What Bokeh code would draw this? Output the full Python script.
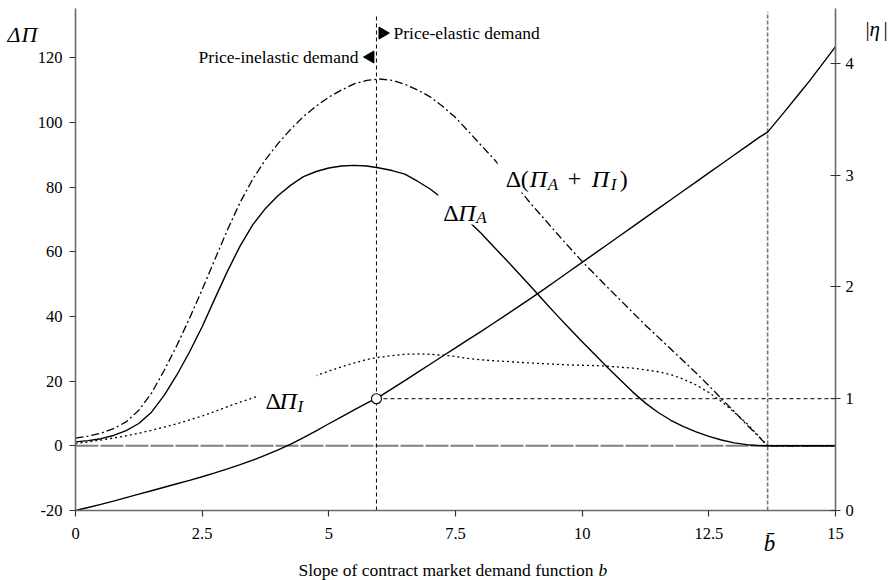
import math

from bokeh.embed import file_html
from bokeh.models import (BoxAnnotation, FixedTicker, Label, LinearAxis,
                          NumeralTickFormatter, Range1d)
from bokeh.plotting import figure
from bokeh.resources import INLINE

# Slope of the contract market demand function
b = [0, 0.25, 0.5, 0.75, 1, 1.25, 1.5, 1.75, 2, 2.25, 2.5, 2.75,
     3, 3.25, 3.5, 3.75, 4, 4.25, 4.5, 4.75, 5, 5.25, 5.5, 5.75,
     6, 6.25, 6.5, 6.75, 7, 7.25, 7.5, 7.75, 8, 8.25, 8.5, 8.75,
     9, 9.25, 9.5, 9.75, 10, 10.25, 10.5, 10.75, 11, 11.25, 11.5, 11.75,
     12, 12.25, 12.5, 12.75, 13, 13.25, 13.5,
     13.66, 14, 14.25, 14.5, 14.75, 15]

# Change in profit of A
d_pi_a = [1.2, 1.6, 2.2, 3.2, 4.7, 6.9, 10.4, 15.6, 21.9, 29.0, 36.8, 45.5,
          54.0, 61.8, 68.4, 73.4, 77.4, 80.6, 83.2, 84.8, 85.9, 86.5, 86.7, 86.5,
          85.9, 85.1, 84.0, 81.8, 79.4, 76.4, 73.0, 69.6, 65.8, 61.6, 57.5, 53.3,
          49.0, 44.7, 40.4, 36.3, 32.2, 28.2, 24.2, 20.4, 16.6, 13.2, 10.3, 7.9,
          5.9, 4.3, 2.9, 1.8, 0.9, 0.35, 0.05,
          0, 0, 0, 0, 0, 0]

# Change in profit of I
d_pi_i = [0.7, 1.2, 1.8, 2.4, 3.1, 3.9, 4.8, 5.8, 6.8, 8.0, 9.2, 10.6,
          12.1, 13.5, 14.8, 16.2, 17.5, 18.9, 20.3, 21.7, 23.1, 24.4, 25.6, 26.7,
          27.4, 27.9, 28.3, 28.4, 28.3, 28.0, 27.6, 27.0, 26.6, 26.3, 26.1, 25.8,
          25.6, 25.4, 25.2, 25.0, 24.9, 24.8, 24.6, 24.3, 24.0, 23.5, 22.9, 22.0,
          20.6, 18.8, 16.5, 13.7, 10.4, 6.9, 2.7,
          0, 0, 0, 0, 0, 0]

# Change in joint profit of A and I
d_pi_sum = [2.4, 3.0, 3.9, 5.3, 7.4, 11.0, 16.3, 23.3, 31.0, 39.4, 48.3, 57.6,
            66.8, 75.3, 82.5, 88.5, 93.5, 97.9, 101.8, 105.0, 107.8, 110.0, 111.9, 113.0,
            113.4, 113.0, 111.8, 110.0, 107.9, 104.9, 101.5, 97.3, 93.0, 88.8, 84.2, 79.4,
            74.6, 70.2, 65.7, 61.3, 57.0, 53.0, 49.0, 45.1, 41.2, 37.3, 33.6, 29.9,
            26.2, 22.5, 18.6, 14.6, 10.6, 6.5, 2.6,
            0, 0, 0, 0, 0, 0]

# Absolute price elasticity of demand |eta| (right axis)
eta = [0, 0.027, 0.055, 0.084, 0.115, 0.146, 0.177, 0.208, 0.239, 0.27, 0.302, 0.336,
       0.372, 0.41, 0.45, 0.495, 0.543, 0.594, 0.652, 0.713, 0.776, 0.838, 0.9, 0.96,
       1.018, 1.09, 1.162, 1.235, 1.308, 1.382, 1.455, 1.528, 1.6, 1.675, 1.75, 1.826,
       1.902, 1.98, 2.06, 2.14, 2.22, 2.30, 2.38, 2.46, 2.54, 2.62, 2.70, 2.78,
       2.86, 2.94, 3.02, 3.10, 3.18, 3.26, 3.34,
       3.385, 3.57, 3.71, 3.85, 4.0, 4.15]

b_star = 5.94    # slope at which |eta| = 1
eta_star = 1.0
b_bar = 13.66

x_ticks = [0, 2.5, 5, 7.5, 10, 12.5, 15]
y_ticks = [-20, 0, 20, 40, 60, 80, 100, 120]
eta_ticks = [0, 1, 2, 3, 4]

SERIF = "Liberation Serif"
AXIS_GREY = "#6a6a6a"

# canvas and the pixel box spanned by the three axes
W, H = 894, 580
AX_L, AX_R, AX_T, AX_B = 75, 835, 8, 510
x0, x1 = 0, 15
y0, y1 = -20, 135.2
eta0, eta1 = 0, (y1 - y0) / 34.56
sx = (AX_R - AX_L) / (x1 - x0)
sy = (AX_B - AX_T) / (y1 - y0)
se = (AX_B - AX_T) / (eta1 - eta0)

p = figure(width=W, height=H,
           x_range=Range1d(x0 - AX_L / sx, x1 + (W - AX_R) / sx),
           y_range=Range1d(y0 - (H - AX_B) / sy, y1 + AX_T / sy),
           min_border_left=0, min_border_right=0, min_border_top=0,
           min_border_bottom=0, output_backend="svg", toolbar_location=None,
           background_fill_color="white", border_fill_color="white")
p.outline_line_color = None
p.grid.visible = False
p.extra_y_ranges = {"eta": Range1d(eta0 - (H - AX_B) / se, eta1 + AX_T / se)}

# axes pinned to the data box
xa = p.xaxis[0]
xa.fixed_location = y0
xa.bounds = (x0, x1)
xa.ticker = FixedTicker(ticks=x_ticks)
xa.formatter = NumeralTickFormatter(format="0.[0]")
xa.major_tick_out = 6
xa.major_tick_in = 0
xa.major_label_standoff = 11

ya = p.yaxis[0]
ya.fixed_location = x0
ya.bounds = (y0, y1)
ya.ticker = FixedTicker(ticks=y_ticks)
ya.formatter = NumeralTickFormatter(format="0")
ya.major_tick_out = 6
ya.major_tick_in = 0
ya.major_label_standoff = 7

ra = LinearAxis(y_range_name="eta", fixed_location=x1, bounds=(eta0, eta1),
                ticker=FixedTicker(ticks=eta_ticks),
                formatter=NumeralTickFormatter(format="0"))
ra.major_tick_out = 5
ra.major_tick_in = 5
ra.major_label_standoff = 5
p.add_layout(ra, "right")

for ax in (xa, ya, ra):
    ax.axis_line_color = AXIS_GREY
    ax.axis_line_width = 1.6
    ax.major_tick_line_color = "#333333"
    ax.major_tick_line_width = 1.2
    ax.minor_tick_line_color = None
    ax.major_label_text_font = SERIF
    ax.major_label_text_font_size = "16.5px"
    ax.major_label_text_color = "black"

# reference lines
p.segment(x0=[x0], y0=[0], x1=[x1], y1=[0], line_color="#808080",
          line_width=2, line_dash="23 2")
p.segment(x0=[b_star], y0=[y0], x1=[b_star], y1=[y1 - 2], line_color="black",
          line_width=1, line_dash="4 3")
p.segment(x0=[b_bar], y0=[y0], x1=[b_bar], y1=[y1 - 1], line_color="#777777",
          line_width=1.6, line_dash="4 2")
p.segment(x0=[b_star], y0=[eta_star], x1=[x1], y1=[eta_star], y_range_name="eta",
          line_color="black", line_width=1, line_dash="4 3")

# curves
p.line(b, d_pi_i, line_color="black", line_width=1.3, line_dash="2 3")
p.line(b, d_pi_sum, line_color="black", line_width=1.3, line_dash="8 3 2 3")
p.line(b, d_pi_a, line_color="black", line_width=1.4)
p.line(b, eta, y_range_name="eta", line_color="black", line_width=1.4)

p.scatter([b_star], [eta_star], y_range_name="eta", marker="circle", size=10,
          fill_color="white", line_color="black", line_width=1.1)

# elastic / inelastic side markers
tri = 12
p.scatter([b_star + 0.5 * tri / sx], [127.6], marker="triangle", size=tri,
          angle=-math.pi / 2, color="black")
p.scatter([b_star - 0.5 * tri / sx], [120.2], marker="triangle", size=tri,
          angle=math.pi / 2, color="black")
p.add_layout(Label(x=b_star, y=127.6, x_offset=17, text="Price-elastic demand",
                   text_font=SERIF, text_font_size="17.5px", text_baseline="middle",
                   text_align="left", text_color="black"))
p.add_layout(Label(x=b_star, y=120.2, x_offset=-18, text="Price-inelastic demand",
                   text_font=SERIF, text_font_size="17.5px", text_baseline="middle",
                   text_align="right", text_color="black"))

# white backing behind the curve labels
for l, r, t, bt in [(7.16, 8.29, 78.0, 68.4), (8.33, 11.19, 90.7, 78.3),
                    (3.59, 4.76, 22.7, 10.9)]:
    p.add_layout(BoxAnnotation(left=l, right=r, top=t, bottom=bt,
                               fill_color="white", fill_alpha=1.0,
                               line_color=None, line_alpha=0))


def math_label(x, y, pieces, size=24, sub=17):
    for text, dx, dy, style, small in pieces:
        p.add_layout(Label(x=x, y=y, x_offset=dx, y_offset=dy, text=text,
                           text_font=SERIF,
                           text_font_size=f"{sub if small else size}px",
                           text_font_style=style, text_baseline="alphabetic",
                           text_align="left", text_color="black"))


math_label(7.26, 72.1, [("Δ", 0, 0, "normal", False),
                        ("Π", 15, 0, "italic", False),
                        ("A", 33, -5, "italic", True)])
math_label(8.49, 82.6, [("Δ", 0, 0, "normal", False),
                        ("(", 15, 0, "normal", False),
                        ("Π", 24, 0, "italic", False),
                        ("A", 42, -6, "italic", True),
                        ("+", 62, 0, "normal", False),
                        ("Π", 86, 0, "italic", False),
                        ("I", 105, -6, "italic", True),
                        (")", 114, 0, "normal", False)])
math_label(3.75, 13.7, [("Δ", 0, 0, "normal", False),
                        ("Π", 14, 0, "italic", False),
                        ("I", 32, -5, "italic", True)])

# axis titles
math_label(x0, y1, [("Δ", -68, -26, "italic", False),
                    ("Π", -54, -26, "italic", False)], size=22)
math_label(x1, y1, [("|", 30, -20, "normal", False),
                    ("η", 34, -20, "italic", False),
                    ("|", 48, -20, "normal", False)], size=21)
p.add_layout(Label(x=b_bar, y=y0, x_offset=2, y_offset=-33, text="b\u0304",
                   text_font=SERIF, text_font_size="23px", text_font_style="italic",
                   text_align="center", text_baseline="alphabetic",
                   text_color="black"))
p.add_layout(Label(x=x0, y=y0, x_offset=223, y_offset=-59,
                   text="Slope of contract market demand function",
                   text_font=SERIF, text_font_size="17.5px", text_align="left",
                   text_baseline="alphabetic", text_color="black"))
p.add_layout(Label(x=x0, y=y0, x_offset=523, y_offset=-59, text="b",
                   text_font=SERIF, text_font_size="17.5px", text_font_style="italic",
                   text_align="left", text_baseline="alphabetic",
                   text_color="black"))

open("out.html", "w").write(file_html(p, INLINE))
